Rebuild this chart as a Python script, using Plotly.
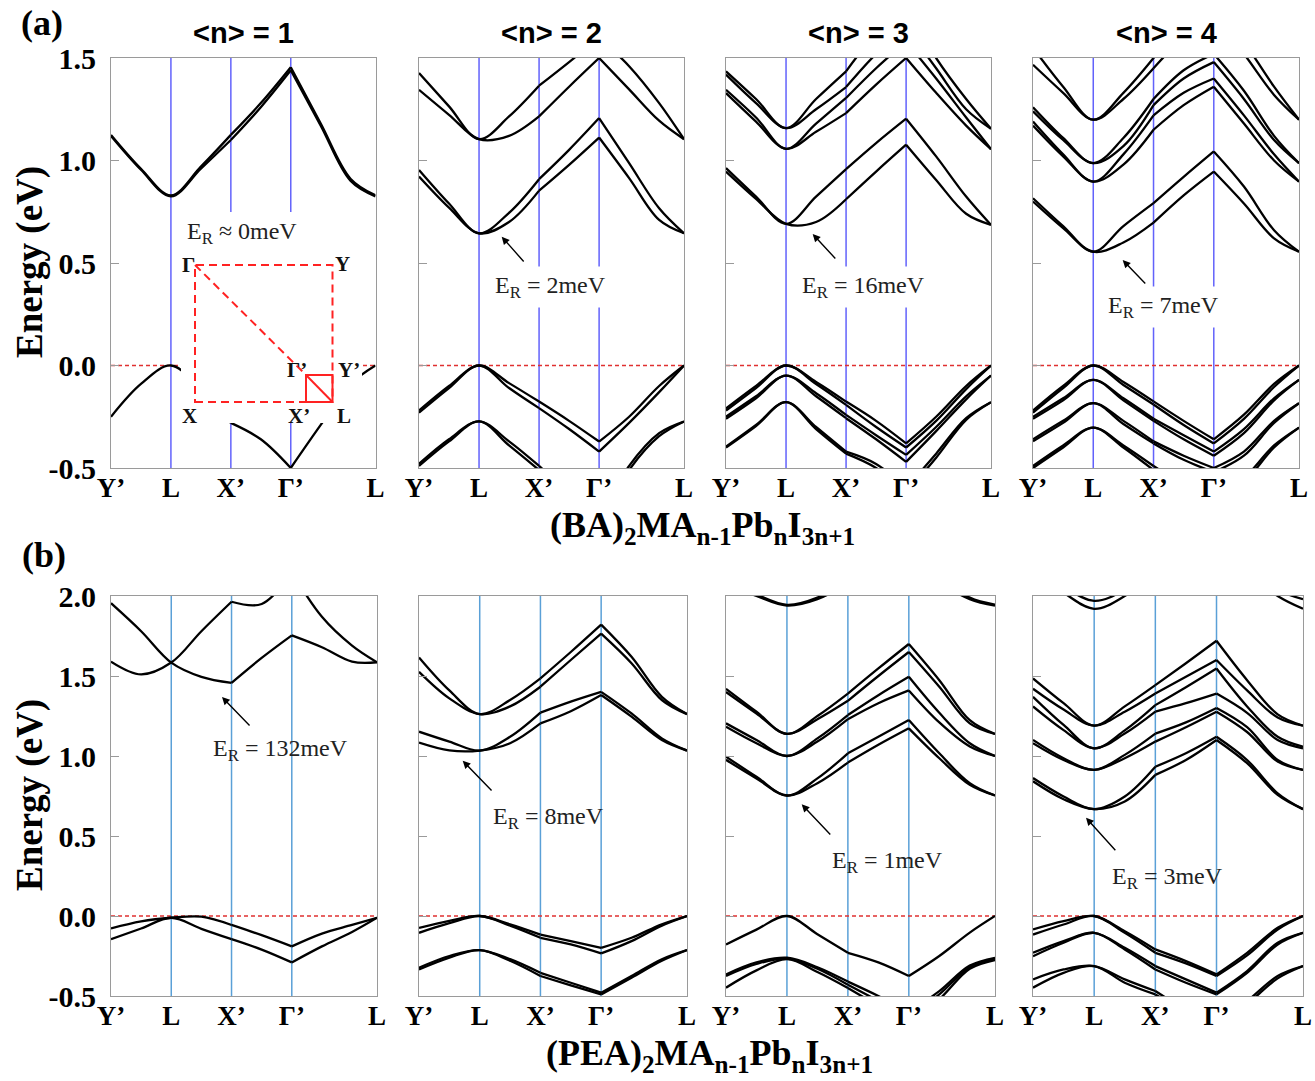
import plotly.graph_objects as go

W, H = 1315, 1081
SERIF = "Liberation Serif, Times New Roman, serif"
SANS = "Liberation Sans, Arial, sans-serif"

# k-path sample points (Y', L, X', Γ', L) and symmetry labels
K_POINTS = [0.0, 0.5, 1.0, 1.5, 2.0, 2.5, 3.0, 3.5, 4.0, 4.414]
SYM_K = [0.0, 1.0, 2.0, 3.0, 4.414]
SYM_LABELS = ["Y’", "L", "X’", "Γ’", "L"]

# ---------------- (a) (BA)2MA(n-1)PbnI(3n+1) bands (eV) ----------------
BA_N1 = [
    [1.125, 0.96, 0.83, 0.97, 1.125, 1.28, 1.455, 1.18, 0.91, 0.83],
    [1.12, 0.955, 0.825, 0.96, 1.10, 1.26, 1.44, 1.17, 0.90, 0.825],
    [-0.25, -0.09, 0.0, -0.12, -0.28, -0.36, -0.50, -0.29, -0.09, 0.0],
]
BA_N2 = [
    [1.345, 1.223, 1.104, 1.12, 1.215, 1.36, 1.50, 1.347, 1.194, 1.104],
    [1.427, 1.264, 1.104, 1.215, 1.365, 1.48, 1.60, 1.46, 1.28, 1.104],
    [0.954, 0.79, 0.645, 0.745, 0.909, 1.052, 1.207, 0.987, 0.767, 0.645],
    [0.922, 0.77, 0.645, 0.70, 0.853, 0.979, 1.112, 0.914, 0.71, 0.645],
    [-0.22, -0.10, 0.0, -0.086, -0.176, -0.27, -0.371, -0.25, -0.10, 0.0],
    [-0.23, -0.11, 0.0, -0.11, -0.208, -0.31, -0.42, -0.28, -0.13, 0.0],
    [-0.48, -0.36, -0.273, -0.37, -0.49, -0.62, -0.75, -0.49, -0.33, -0.273],
    [-0.49, -0.37, -0.273, -0.39, -0.51, -0.64, -0.77, -0.51, -0.345, -0.273],
]
BA_N3 = [
    [0.963, 0.824, 0.691, 0.824, 0.958, 1.085, 1.204, 1.02, 0.824, 0.686],
    [0.946, 0.813, 0.691, 0.70, 0.811, 0.946, 1.077, 0.905, 0.74, 0.686],
    [1.435, 1.30, 1.158, 1.30, 1.435, 1.62, 1.75, 1.50, 1.30, 1.155],
    [1.419, 1.28, 1.158, 1.25, 1.358, 1.52, 1.65, 1.45, 1.25, 1.155],
    [1.345, 1.21, 1.057, 1.18, 1.305, 1.45, 1.58, 1.40, 1.21, 1.055],
    [1.329, 1.19, 1.057, 1.14, 1.231, 1.37, 1.50, 1.33, 1.17, 1.055],
    [-0.21, -0.10, 0.0, -0.08, -0.176, -0.27, -0.38, -0.25, -0.10, 0.0],
    [-0.22, -0.11, 0.0, -0.09, -0.192, -0.30, -0.40, -0.27, -0.115, 0.0],
    [-0.25, -0.15, -0.049, -0.135, -0.241, -0.34, -0.436, -0.30, -0.15, -0.049],
    [-0.26, -0.16, -0.049, -0.15, -0.257, -0.36, -0.47, -0.32, -0.165, -0.049],
    [-0.396, -0.29, -0.179, -0.30, -0.42, -0.48, -0.60, -0.43, -0.257, -0.179],
    [-0.40, -0.295, -0.179, -0.31, -0.43, -0.50, -0.62, -0.45, -0.265, -0.179],
]
BA_N4 = [
    [0.816, 0.68, 0.555, 0.68, 0.792, 0.92, 1.044, 0.873, 0.66, 0.555],
    [0.80, 0.67, 0.555, 0.60, 0.697, 0.83, 0.946, 0.79, 0.62, 0.555],
    [1.19, 1.03, 0.897, 1.03, 1.22, 1.33, 1.40, 1.22, 1.03, 0.897],
    [1.17, 1.02, 0.897, 0.98, 1.15, 1.27, 1.36, 1.18, 1.00, 0.897],
    [1.26, 1.11, 0.987, 1.11, 1.30, 1.44, 1.52, 1.34, 1.12, 0.987],
    [1.24, 1.10, 0.987, 1.07, 1.27, 1.40, 1.48, 1.30, 1.10, 0.987],
    [1.467, 1.33, 1.199, 1.30, 1.45, 1.60, 1.70, 1.52, 1.32, 1.199],
    [1.55, 1.36, 1.199, 1.33, 1.50, 1.65, 1.78, 1.58, 1.36, 1.199],
    [-0.22, -0.10, 0.0, -0.08, -0.175, -0.27, -0.36, -0.24, -0.09, 0.0],
    [-0.23, -0.11, 0.0, -0.095, -0.19, -0.29, -0.38, -0.26, -0.105, 0.0],
    [-0.25, -0.16, -0.07, -0.16, -0.26, -0.34, -0.42, -0.31, -0.16, -0.07],
    [-0.26, -0.17, -0.07, -0.17, -0.27, -0.36, -0.44, -0.33, -0.17, -0.07],
    [-0.36, -0.27, -0.184, -0.27, -0.37, -0.44, -0.50, -0.42, -0.27, -0.184],
    [-0.37, -0.28, -0.184, -0.285, -0.38, -0.46, -0.52, -0.44, -0.28, -0.184],
    [-0.49, -0.39, -0.303, -0.39, -0.49, -0.58, -0.65, -0.55, -0.39, -0.303],
    [-0.50, -0.40, -0.303, -0.40, -0.51, -0.60, -0.67, -0.57, -0.40, -0.303],
]

# ---------------- (b) (PEA)2MA(n-1)PbnI(3n+1) bands (eV) ----------------
PEA_N1 = [
    [1.59, 1.51, 1.584, 1.78, 1.964, 1.95, 2.15, 1.87, 1.69, 1.586],
    [1.955, 1.78, 1.584, 1.495, 1.457, 1.613, 1.754, 1.68, 1.59, 1.586],
    [-0.078, -0.034, -0.011, -0.004, -0.056, -0.12, -0.19, -0.11, -0.056, -0.011],
    [-0.145, -0.078, -0.011, -0.08, -0.145, -0.21, -0.29, -0.19, -0.10, -0.011],
]
PEA_N2 = [
    [1.152, 1.09, 1.034, 1.12, 1.271, 1.34, 1.401, 1.266, 1.11, 1.034],
    [1.084, 1.035, 1.034, 1.08, 1.204, 1.28, 1.381, 1.246, 1.10, 1.034],
    [1.616, 1.41, 1.262, 1.35, 1.485, 1.65, 1.821, 1.62, 1.37, 1.262],
    [1.526, 1.36, 1.262, 1.31, 1.433, 1.60, 1.765, 1.58, 1.35, 1.262],
    [-0.074, -0.03, 0.0, -0.052, -0.116, -0.157, -0.199, -0.136, -0.052, 0.0],
    [-0.105, -0.045, 0.0, -0.06, -0.136, -0.178, -0.234, -0.157, -0.06, 0.0],
    [-0.323, -0.25, -0.213, -0.27, -0.355, -0.417, -0.479, -0.375, -0.27, -0.213],
    [-0.334, -0.26, -0.213, -0.28, -0.375, -0.433, -0.49, -0.386, -0.28, -0.213],
]
PEA_N3 = [
    [0.996, 0.87, 0.753, 0.86, 1.017, 1.12, 1.225, 1.017, 0.83, 0.753],
    [0.976, 0.86, 0.753, 0.83, 0.959, 1.07, 1.173, 0.986, 0.82, 0.753],
    [1.204, 1.10, 1.0, 1.11, 1.256, 1.38, 1.495, 1.27, 1.08, 1.0],
    [1.183, 1.08, 1.0, 1.09, 1.23, 1.33, 1.41, 1.21, 1.06, 1.0],
    [1.42, 1.277, 1.138, 1.25, 1.39, 1.547, 1.70, 1.474, 1.224, 1.138],
    [1.40, 1.266, 1.138, 1.23, 1.345, 1.50, 1.65, 1.433, 1.204, 1.138],
    [2.10, 2.01, 1.945, 1.99, 2.10, 2.30, 2.50, 2.12, 1.99, 1.946],
    [2.08, 2.00, 1.94, 1.98, 2.08, 2.25, 2.45, 2.10, 1.98, 1.94],
    [-0.178, -0.085, 0.0, -0.114, -0.23, -0.29, -0.375, -0.25, -0.104, 0.0],
    [-0.365, -0.29, -0.261, -0.32, -0.41, -0.50, -0.60, -0.47, -0.31, -0.261],
    [-0.375, -0.30, -0.266, -0.33, -0.43, -0.53, -0.63, -0.49, -0.32, -0.266],
    [-0.448, -0.34, -0.27, -0.35, -0.45, -0.56, -0.66, -0.52, -0.33, -0.275],
]
PEA_N4 = [
    [0.862, 0.747, 0.668, 0.747, 0.933, 1.017, 1.12, 0.975, 0.767, 0.668],
    [0.842, 0.73, 0.668, 0.716, 0.882, 0.975, 1.10, 0.955, 0.757, 0.668],
    [1.10, 0.986, 0.913, 1.007, 1.14, 1.21, 1.30, 1.18, 0.975, 0.913],
    [1.08, 0.975, 0.913, 0.986, 1.09, 1.18, 1.277, 1.15, 0.965, 0.913],
    [1.37, 1.194, 1.048, 1.16, 1.318, 1.43, 1.547, 1.31, 1.12, 1.058],
    [1.31, 1.162, 1.048, 1.14, 1.277, 1.33, 1.39, 1.27, 1.10, 1.048],
    [1.485, 1.33, 1.19, 1.31, 1.443, 1.58, 1.72, 1.474, 1.26, 1.19],
    [1.42, 1.29, 1.19, 1.277, 1.391, 1.495, 1.60, 1.41, 1.24, 1.19],
    [2.15, 2.02, 1.92, 2.0, 2.15, 2.35, 2.50, 2.15, 2.0, 1.92],
    [2.20, 2.06, 1.97, 2.04, 2.20, 2.40, 2.55, 2.20, 2.04, 1.98],
    [-0.084, -0.032, 0.0, -0.095, -0.209, -0.282, -0.365, -0.23, -0.074, 0.0],
    [-0.116, -0.053, 0.0, -0.105, -0.23, -0.296, -0.375, -0.246, -0.084, 0.0],
    [-0.23, -0.157, -0.105, -0.199, -0.313, -0.396, -0.479, -0.344, -0.167, -0.105],
    [-0.251, -0.167, -0.105, -0.209, -0.334, -0.417, -0.49, -0.355, -0.178, -0.105],
    [-0.396, -0.334, -0.313, -0.396, -0.469, -0.583, -0.66, -0.531, -0.375, -0.313],
    [-0.448, -0.355, -0.313, -0.417, -0.49, -0.60, -0.68, -0.55, -0.39, -0.313],
]

PANELS = [BA_N1, BA_N2, BA_N3, BA_N4, PEA_N1, PEA_N2, PEA_N3, PEA_N4]
PANEL_TITLES = ["&lt;n&gt; = 1", "&lt;n&gt; = 2", "&lt;n&gt; = 3", "&lt;n&gt; = 4"]
ER_TEXT = ["E<sub>R</sub> ≈ 0meV", "E<sub>R</sub> = 2meV", "E<sub>R</sub> = 16meV", "E<sub>R</sub> = 7meV",
           "E<sub>R</sub> = 132meV", "E<sub>R</sub> = 8meV", "E<sub>R</sub> = 1meV", "E<sub>R</sub> = 3meV"]
Y_RANGES = [[-0.5, 1.5], [-0.5, 2.0]]
Y_TICKS = [[-0.5, 0.0, 0.5, 1.0, 1.5], [-0.5, 0.0, 0.5, 1.0, 1.5, 2.0]]
Y_TICK_TEXT = [["-0.5", "0.0", "0.5", "1.0", "1.5"], ["-0.5", "0.0", "0.5", "1.0", "1.5", "2.0"]]

# ---------------- layout geometry (pixels) ----------------
COLS_PX = [[(111, 375.5), (419, 684), (726, 991), (1033, 1299)],
           [(111, 377), (419, 687), (726, 995), (1033, 1303)]]
ROWS_PX = [(58, 468), (596, 996)]
ER_POS = [(242, 233), (550, 287), (863, 287), (1163, 307),
          (280, 750), (548, 818), (887, 862), (1167, 878)]
ARROWS = [None, ((525, 263), (501.7, 236.7)), ((836.7, 260), (812.7, 234)), ((1146.7, 285), (1122.7, 260)),
          ((251, 727), (222, 697)), ((493, 792), (462.7, 760.7)), ((831.7, 836), (801.7, 804.3)),
          ((1116.7, 851.7), (1086, 817.7))]
SEGMENTS = [(0, 4), (4, 6), (6, 9)]
VLINE_COLORS = ["rgba(70,70,250,0.85)", "rgba(90,160,215,1)"]


def px(x, y):
    return x / W, 1 - y / H


def band_xy(vals):
    xs, ys = [], []
    for s, e in SEGMENTS:
        xs += K_POINTS[s:e + 1] + [None]
        ys += vals[s:e + 1] + [None]
    return xs, ys


fig = go.Figure()
layout = dict(width=W, height=H, margin=dict(l=0, r=0, t=0, b=0),
              paper_bgcolor="white", plot_bgcolor="white", showlegend=False)
shapes, annotations = [], []

for i, bands in enumerate(PANELS):
    row, col = divmod(i, 4)
    n = i + 1
    xn = "x" if n == 1 else f"x{n}"
    yn = "y" if n == 1 else f"y{n}"
    (x0, x1), (y0, y1) = COLS_PX[row][col], ROWS_PX[row]
    layout[f"xaxis{'' if n == 1 else n}"] = dict(
        domain=[x0 / W, x1 / W], range=[0, SYM_K[-1]], anchor=yn,
        tickvals=SYM_K, ticktext=SYM_LABELS, ticks="", showgrid=False, zeroline=False,
        showline=True, mirror=True, linecolor="#9a9a9a", linewidth=1.2, automargin=False,
        ticklabelstandoff=-5,
        tickfont=dict(family=SERIF, size=27, color="black", weight="bold"))
    layout[f"yaxis{'' if n == 1 else n}"] = dict(
        domain=[1 - y1 / H, 1 - y0 / H], range=Y_RANGES[row], anchor=xn,
        tickvals=Y_TICKS[row], ticktext=Y_TICK_TEXT[row], ticks="inside", ticklen=8,
        tickcolor="#9a9a9a",
        showticklabels=(col == 0), showgrid=False, zeroline=False, ticklabelstandoff=8,
        showline=True, mirror=True, linecolor="#9a9a9a", linewidth=1.2, automargin=False,
        tickfont=dict(family=SERIF, size=30, color="black", weight="bold"))
    for k in SYM_K[1:4]:
        shapes.append(dict(type="line", xref=xn, yref=f"{yn} domain", x0=k, x1=k, y0=0, y1=1,
                           layer="below", line=dict(color=VLINE_COLORS[row], width=1.5)))
    shapes.append(dict(type="line", xref=f"{xn} domain", yref=yn, x0=0, x1=1, y0=0, y1=0,
                       layer="below", line=dict(color="#e03030", width=1.3, dash="4px,3px")))
    for vals in bands:
        bx, by = band_xy(vals)
        fig.add_trace(go.Scatter(x=bx, y=by, mode="lines", xaxis=xn, yaxis=yn, connectgaps=False,
                                 hoverinfo="skip",
                                 line=dict(color="black", width=2.3, shape="spline", smoothing=1.0)))
    # E_R labels
    tx, ty = px(*ER_POS[i])
    annotations.append(dict(xref="paper", yref="paper", x=tx, y=ty, text=ER_TEXT[i], showarrow=False,
                            font=dict(family=SERIF, size=24, color="#222"),
                            bgcolor="white" if row == 0 else None, borderpad=5,
                            xanchor="center", yanchor="middle"))
    if ARROWS[i] is not None:
        (tlx, tly), (hx, hy) = ARROWS[i]
        ax_, ay_ = px(hx, hy)
        annotations.append(dict(xref="paper", yref="paper", x=ax_, y=ay_, text="", showarrow=True,
                                ax=tlx - hx, ay=tly - hy, arrowhead=2, arrowsize=1.1,
                                arrowwidth=1.4, arrowcolor="black", standoff=0))
    if row == 0:
        cx = (x0 + x1) / 2
        tx, ty = px(cx, 33)
        annotations.append(dict(xref="paper", yref="paper", x=tx, y=ty, text=PANEL_TITLES[col],
                                showarrow=False, font=dict(family=SANS, size=29, color="black", weight="bold"),
                                xanchor="center", yanchor="middle"))

# inset Brillouin-zone sketch in panel (a) <n>=1
bx0, by0 = px(181, 212)
bx1, by1 = px(362, 423)
shapes.append(dict(type="rect", xref="paper", yref="paper", x0=bx0, y0=by1, x1=bx1, y1=by0,
                   fillcolor="white", line=dict(width=0), layer="above"))
RED = "#ff2222"
gx, gy = px(195, 265)
lx, ly = px(332.5, 402)
gpx, gpy = px(306, 375)
shapes.append(dict(type="rect", xref="paper", yref="paper", x0=gx, y0=ly, x1=lx, y1=gy,
                   line=dict(color=RED, width=2, dash="8px,5px"), layer="above"))
shapes.append(dict(type="line", xref="paper", yref="paper", x0=gx, y0=gy, x1=gpx, y1=gpy,
                   line=dict(color=RED, width=2, dash="8px,5px"), layer="above"))
shapes.append(dict(type="rect", xref="paper", yref="paper", x0=gpx, y0=ly, x1=lx, y1=gpy,
                   line=dict(color=RED, width=2), layer="above"))
shapes.append(dict(type="line", xref="paper", yref="paper", x0=gpx, y0=gpy, x1=lx, y1=ly,
                   line=dict(color=RED, width=2), layer="above"))
INSET_LABELS = [("Γ", 188, 265), ("Y", 343, 264), ("X", 189, 416), ("X’", 299, 416),
                ("L", 344, 416), ("Γ’", 297, 370), ("Y’", 349, 370)]
for t, x, y in INSET_LABELS:
    tx, ty = px(x, y)
    annotations.append(dict(xref="paper", yref="paper", x=tx, y=ty, text=t, showarrow=False,
                            font=dict(family=SERIF, size=21, color="#111", weight="bold"),
                            xanchor="center", yanchor="middle"))

# global labels
GLOBAL_TEXT = [
    ("(a)", 42, 23, 36, 0), ("(b)", 44, 555, 36, 0),
    ("Energy (eV)", 30, 262, 37, -90), ("Energy (eV)", 30, 795, 37, -90),
    ("(BA)<sub>2</sub>MA<sub>n-1</sub>Pb<sub>n</sub>I<sub>3n+1</sub>", 702, 527, 36, 0),
    ("(PEA)<sub>2</sub>MA<sub>n-1</sub>Pb<sub>n</sub>I<sub>3n+1</sub>", 710, 1055, 36, 0),
]
for t, x, y, s, ang in GLOBAL_TEXT:
    tx, ty = px(x, y)
    annotations.append(dict(xref="paper", yref="paper", x=tx, y=ty, text=t, showarrow=False,
                            textangle=ang, font=dict(family=SERIF, size=s, color="black", weight="bold"),
                            xanchor="center", yanchor="middle"))

layout["shapes"] = shapes
layout["annotations"] = annotations
fig.update_layout(**layout)
fig.write_html("out.html")
